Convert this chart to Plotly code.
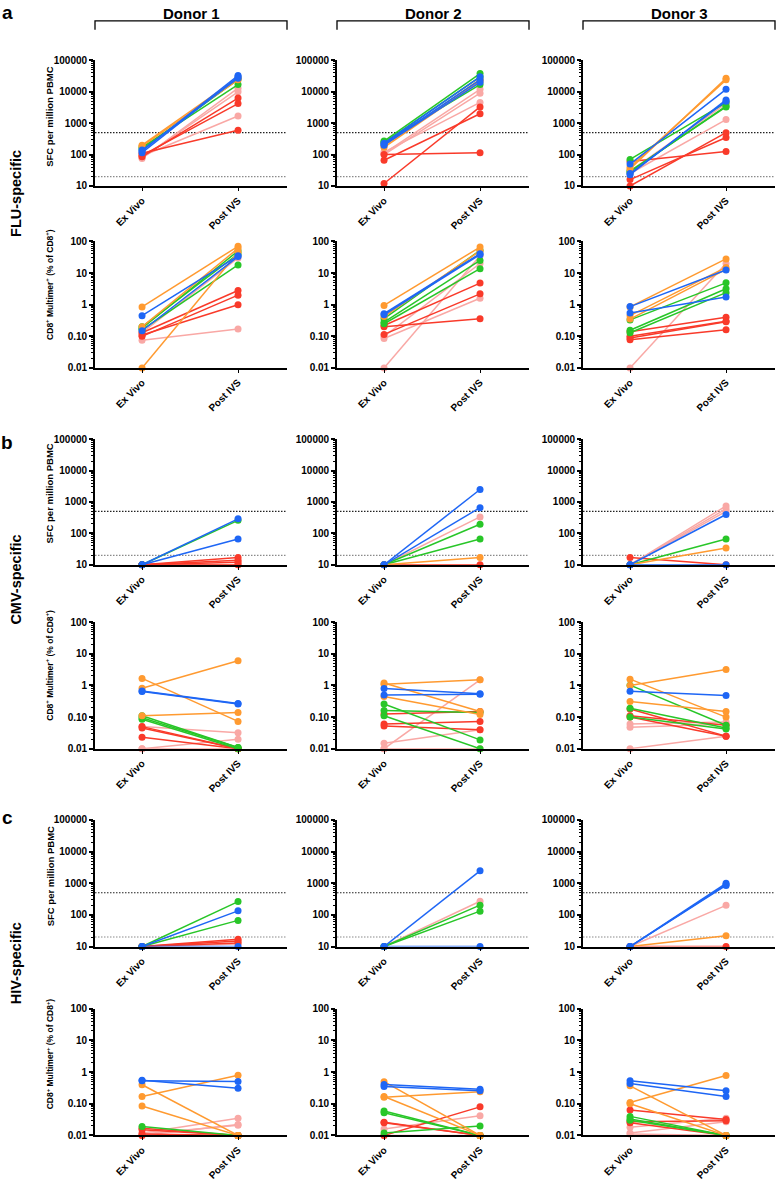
import plotly.graph_objects as go

# ---------------- data ----------------
x_categories = ["Ex Vivo", "Post IVS"]
donors = ["Donor 1", "Donor 2", "Donor 3"]
specificities = ["FLU-specific", "CMV-specific", "HIV-specific"]
panel_letters = ["a", "b", "c"]
thresholds = [500, 20]

sfc_tickvals = [10, 100, 1000, 10000, 100000]
sfc_ticktext = ["10", "100", "1000", "10000", "100000"]
mult_tickvals = [0.01, 0.1, 1, 10, 100]
mult_ticktext = ["0.01", "0.10", "1", "10", "100"]

# (colour group, Ex Vivo value, Post IVS value)
flu_sfc_d1 = [("pink", 75, 13000), ("pink", 90, 1700), ("pink", 80, 10000),
              ("red", 85, 6300), ("red", 95, 4200), ("red", 110, 600),
              ("green", 170, 17000), ("green", 150, 25000),
              ("orange", 200, 28000), ("orange", 185, 24000),
              ("blue", 130, 33000), ("blue", 115, 30000), ("blue", 140, 27000)]
flu_sfc_d2 = [("pink", 110, 12000), ("pink", 100, 9000), ("pink", 120, 4600),
              ("red", 12, 3300), ("red", 66, 2000), ("red", 100, 115),
              ("green", 270, 38000), ("green", 250, 17000), ("green", 240, 30000),
              ("orange", 170, 22000), ("orange", 190, 25000),
              ("blue", 230, 30000), ("blue", 210, 24000), ("blue", 200, 20000)]
flu_sfc_d3 = [("pink", 25, 1300), ("pink", 30, 4200),
              ("red", 60, 125), ("red", 16, 350), ("red", 10, 500),
              ("green", 70, 4500), ("green", 30, 3300), ("green", 28, 3500),
              ("orange", 35, 27000), ("orange", 40, 24000),
              ("blue", 50, 12000), ("blue", 23, 5500), ("blue", 25, 5000)]

flu_mult_d1 = [("pink", 0.075, 0.17), ("pink", 0.13, 30),
               ("red", 0.13, 2.8), ("red", 0.10, 2.0), ("red", 0.11, 1.0),
               ("green", 0.18, 50), ("green", 0.16, 18), ("green", 0.20, 40),
               ("orange", 0.85, 70), ("orange", 0.01, 45), ("orange", 0.20, 60),
               ("blue", 0.45, 35), ("blue", 0.15, 33)]
flu_mult_d2 = [("pink", 0.085, 1.6), ("pink", 0.01, 35), ("pink", 0.10, 20),
               ("red", 0.22, 4.8), ("red", 0.115, 2.2), ("red", 0.20, 0.36),
               ("green", 0.36, 52), ("green", 0.28, 25), ("green", 0.25, 13.7),
               ("orange", 0.95, 66), ("orange", 0.42, 50),
               ("blue", 0.52, 41), ("blue", 0.48, 38)]
flu_mult_d3 = [("pink", 0.01, 20),
               ("red", 0.14, 0.40), ("red", 0.10, 0.30), ("red", 0.089, 0.29), ("red", 0.078, 0.16),
               ("green", 0.33, 4.9), ("green", 0.155, 3.2), ("green", 0.13, 2.4),
               ("orange", 0.85, 28), ("orange", 0.45, 15), ("orange", 0.35, 13),
               ("blue", 0.87, 12.5), ("blue", 0.55, 1.74)]

cmv_sfc_d1 = [("pink", 10, 10),
              ("red", 10, 17), ("red", 10, 14), ("red", 10, 12), ("red", 10, 10),
              ("green", 10, 260),
              ("blue", 10, 290), ("blue", 10, 66)]
cmv_sfc_d2 = [("pink", 10, 335), ("red", 10, 10), ("green", 10, 196), ("green", 10, 66),
              ("orange", 10, 17), ("blue", 10, 2500), ("blue", 10, 660)]
cmv_sfc_d3 = [("pink", 10, 745), ("pink", 10, 600), ("pink", 10, 500), ("red", 17, 10),
              ("green", 10, 66), ("orange", 10, 34), ("blue", 10, 400), ("blue", 10, 10)]

cmv_mult_d1 = [("pink", 0.05, 0.032), ("pink", 0.01, 0.02), ("pink", 0.01, 0.01),
               ("red", 0.05, 0.01), ("red", 0.045, 0.01), ("red", 0.023, 0.01),
               ("green", 0.11, 0.011), ("green", 0.095, 0.011), ("green", 0.085, 0.01),
               ("orange", 0.81, 6.0), ("orange", 1.67, 0.073), ("orange", 0.11, 0.14),
               ("blue", 0.64, 0.26), ("blue", 0.67, 0.27)]
cmv_mult_d2 = [("pink", 0.01, 1.5), ("pink", 0.015, 0.04), ("pink", 0.01, 0.01),
               ("red", 0.126, 0.149), ("red", 0.06, 0.072), ("red", 0.052, 0.04),
               ("green", 0.26, 0.019), ("green", 0.16, 0.14), ("green", 0.11, 0.01),
               ("orange", 1.1, 1.5), ("orange", 1.2, 0.15), ("orange", 0.45, 0.12),
               ("blue", 0.8, 0.55), ("blue", 0.5, 0.53)]
cmv_mult_d3 = [("pink", 0.06, 0.07), ("pink", 0.048, 0.06), ("pink", 0.01, 0.025),
               ("red", 0.18, 0.025), ("red", 0.11, 0.055), ("red", 0.10, 0.025),
               ("green", 1.02, 0.055), ("green", 0.19, 0.045), ("green", 0.10, 0.042),
               ("orange", 1.0, 3.2), ("orange", 1.58, 0.10), ("orange", 0.31, 0.15),
               ("blue", 0.66, 0.48)]

hiv_sfc_d1 = [("pink", 10, 12), ("red", 10, 17), ("red", 10, 15), ("red", 10, 13),
              ("green", 10, 263), ("green", 10, 67), ("blue", 10, 134), ("blue", 10, 10)]
hiv_sfc_d2 = [("pink", 10, 270), ("green", 10, 203), ("green", 10, 131),
              ("blue", 10, 2460), ("blue", 10, 10)]
hiv_sfc_d3 = [("pink", 10, 200), ("red", 10, 10), ("orange", 10, 22),
              ("blue", 10, 990), ("blue", 10, 900), ("blue", 10, 850)]

hiv_mult_d1 = [("pink", 0.012, 0.035), ("pink", 0.01, 0.022), ("pink", 0.011, 0.021),
               ("red", 0.017, 0.01), ("red", 0.015, 0.01), ("red", 0.011, 0.01), ("red", 0.01, 0.01),
               ("green", 0.019, 0.01),
               ("orange", 0.17, 0.8), ("orange", 0.40, 0.01), ("orange", 0.085, 0.01),
               ("blue", 0.53, 0.51), ("blue", 0.55, 0.31)]
hiv_mult_d2 = [("pink", 0.016, 0.042), ("pink", 0.01, 0.01),
               ("red", 0.026, 0.01), ("red", 0.025, 0.01), ("red", 0.01, 0.08),
               ("green", 0.059, 0.01), ("green", 0.052, 0.01), ("green", 0.012, 0.02),
               ("orange", 0.50, 0.01), ("orange", 0.17, 0.01), ("orange", 0.16, 0.24),
               ("blue", 0.41, 0.29), ("blue", 0.35, 0.26)]
hiv_mult_d3 = [("pink", 0.018, 0.035), ("pink", 0.012, 0.027), ("pink", 0.011, 0.01),
               ("red", 0.064, 0.032), ("red", 0.027, 0.029), ("red", 0.025, 0.01),
               ("green", 0.04, 0.01), ("green", 0.033, 0.01), ("green", 0.03, 0.01),
               ("orange", 0.11, 0.78), ("orange", 0.37, 0.01), ("orange", 0.10, 0.01),
               ("blue", 0.53, 0.26), ("blue", 0.44, 0.17)]

# ---------------- style ----------------
COLORS = {"orange": "#FF9A30", "blue": "#1E66F5", "green": "#28C628",
          "red": "#F93A2A", "pink": "#F9A8A5"}
DRAW_ORDER = ["pink", "red", "green", "orange", "blue"]
FONT = "Liberation Sans, Arial, sans-serif"
W, H = 778, 1181

rows = [
    ("sfc", [flu_sfc_d1, flu_sfc_d2, flu_sfc_d3]),
    ("mult", [flu_mult_d1, flu_mult_d2, flu_mult_d3]),
    ("sfc", [cmv_sfc_d1, cmv_sfc_d2, cmv_sfc_d3]),
    ("mult", [cmv_mult_d1, cmv_mult_d2, cmv_mult_d3]),
    ("sfc", [hiv_sfc_d1, hiv_sfc_d2, hiv_sfc_d3]),
    ("mult", [hiv_mult_d1, hiv_mult_d2, hiv_mult_d3]),
]

col_px = [(95, 287), (337, 529), (583, 775)]
row_px = [(55, 182), (238, 366), (438, 565), (623, 751), (823, 951), (1014, 1142)]
XRANGE = [-0.49, 1.51]


def px_x(x):
    return x / W


def px_y(y):
    return 1 - y / H


fig = go.Figure()
layout = {}

for r, (kind, panels) in enumerate(rows):
    for c, data in enumerate(panels):
        k = r * 3 + c + 1
        xa = "x" if k == 1 else f"x{k}"
        ya = "y" if k == 1 else f"y{k}"
        xkey = "xaxis" if k == 1 else f"xaxis{k}"
        ykey = "yaxis" if k == 1 else f"yaxis{k}"

        # threshold lines
        if kind == "sfc":
            for t, col in zip(thresholds, ["#222222", "#8a8a8a"]):
                fig.add_trace(go.Scatter(
                    x=XRANGE, y=[t, t], mode="lines", xaxis=xa, yaxis=ya,
                    line=dict(color=col, width=1.2, dash="1.5px,1.5px"),
                    showlegend=False, hoverinfo="skip"))

        for grp in DRAW_ORDER:
            for g, ex, post in data:
                if g != grp:
                    continue
                fig.add_trace(go.Scatter(
                    x=[0, 1], y=[ex, post], mode="lines+markers",
                    xaxis=xa, yaxis=ya, cliponaxis=False,
                    line=dict(color=COLORS[g], width=1.5),
                    marker=dict(color=COLORS[g], size=7),
                    showlegend=False))

        x0, x1 = col_px[c]
        y0, y1 = row_px[r]
        layout[xkey] = dict(
            domain=[px_x(x0), px_x(x1)], anchor=ya, range=XRANGE,
            tickmode="array", tickvals=[0, 1], ticktext=x_categories,
            tickangle=-45, ticks="outside", ticklen=3, tickwidth=1.2,
            tickcolor="black",
            showline=True, linecolor="black", linewidth=1.8,
            showgrid=False, zeroline=False,
            tickfont=dict(family=FONT, size=10, color="black", weight="bold"))
        if kind == "sfc":
            yr, tv, tt = [1, 5], sfc_tickvals, sfc_ticktext
        else:
            yr, tv, tt = [-2, 2], mult_tickvals, mult_ticktext
        layout[ykey] = dict(
            domain=[px_y(y1), px_y(y0)], anchor=xa, type="log", range=yr,
            tickmode="array", tickvals=tv, ticktext=tt,
            ticks="outside", ticklen=4, tickwidth=1.5, tickcolor="black",
            minor=dict(ticks="outside", ticklen=2, tickwidth=1,
                       tickcolor="black", dtick="D1", showgrid=False),
            showline=True, linecolor="black", linewidth=1.8,
            showgrid=False, zeroline=False,
            tickfont=dict(family=FONT, size=10, color="black", weight="bold"))

annotations = []
shapes = []

# donor headers with brackets
for c, name in enumerate(donors):
    x0, x1 = col_px[c]
    annotations.append(dict(
        text=name, x=px_x((x0 + x1) / 2), y=px_y(8), xref="paper", yref="paper",
        showarrow=False, xanchor="center", yanchor="middle",
        font=dict(family=FONT, size=15, color="black", weight="bold")))
    shapes.append(dict(
        type="path", xref="paper", yref="paper",
        path=(f"M {px_x(x0)} {px_y(24)} L {px_x(x0)} {px_y(15)} "
              f"L {px_x(x1)} {px_y(15)} L {px_x(x1)} {px_y(24)}"),
        line=dict(color="black", width=1.3)))

# panel letters and specificity labels
letter_y = [7, 441, 821]
spec_y = [190, 580, 968]
for i in range(3):
    annotations.append(dict(
        text=panel_letters[i], x=px_x(7), y=px_y(letter_y[i]), xref="paper",
        yref="paper", showarrow=False, xanchor="center", yanchor="middle",
        font=dict(family=FONT, size=19, color="black", weight="bold")))
    annotations.append(dict(
        text=specificities[i], x=px_x(16), y=px_y(spec_y[i]), xref="paper",
        yref="paper", showarrow=False, textangle=-90, xanchor="center",
        yanchor="middle",
        font=dict(family=FONT, size=14.5, color="black", weight="bold")))

# y axis titles (first column only)
sfc_title = "SFC per million PBMC"
mult_title = "CD8<sup>+</sup> Multimer<sup>+</sup> (% of CD8<sup>+</sup>)"
title_y = [112, 282, 493, 667, 880, 1060]
for r, (kind, _) in enumerate(rows):
    annotations.append(dict(
        text=sfc_title if kind == "sfc" else mult_title,
        x=px_x(50), y=px_y(title_y[r]), xref="paper", yref="paper",
        showarrow=False, textangle=-90, xanchor="center", yanchor="middle",
        font=dict(family=FONT, size=9.5 if kind == "sfc" else 8.5,
                  color="black", weight="bold")))

fig.update_layout(
    width=W, height=H, margin=dict(l=0, r=0, t=0, b=0),
    paper_bgcolor="white", plot_bgcolor="white",
    showlegend=False, annotations=annotations, shapes=shapes,
    **layout)

fig.write_html(
    "out.html",
    config={"displayModeBar": False},
    post_script="document.body.style.margin='0';document.body.style.padding='0';"
                "document.documentElement.style.overflow='hidden';")
